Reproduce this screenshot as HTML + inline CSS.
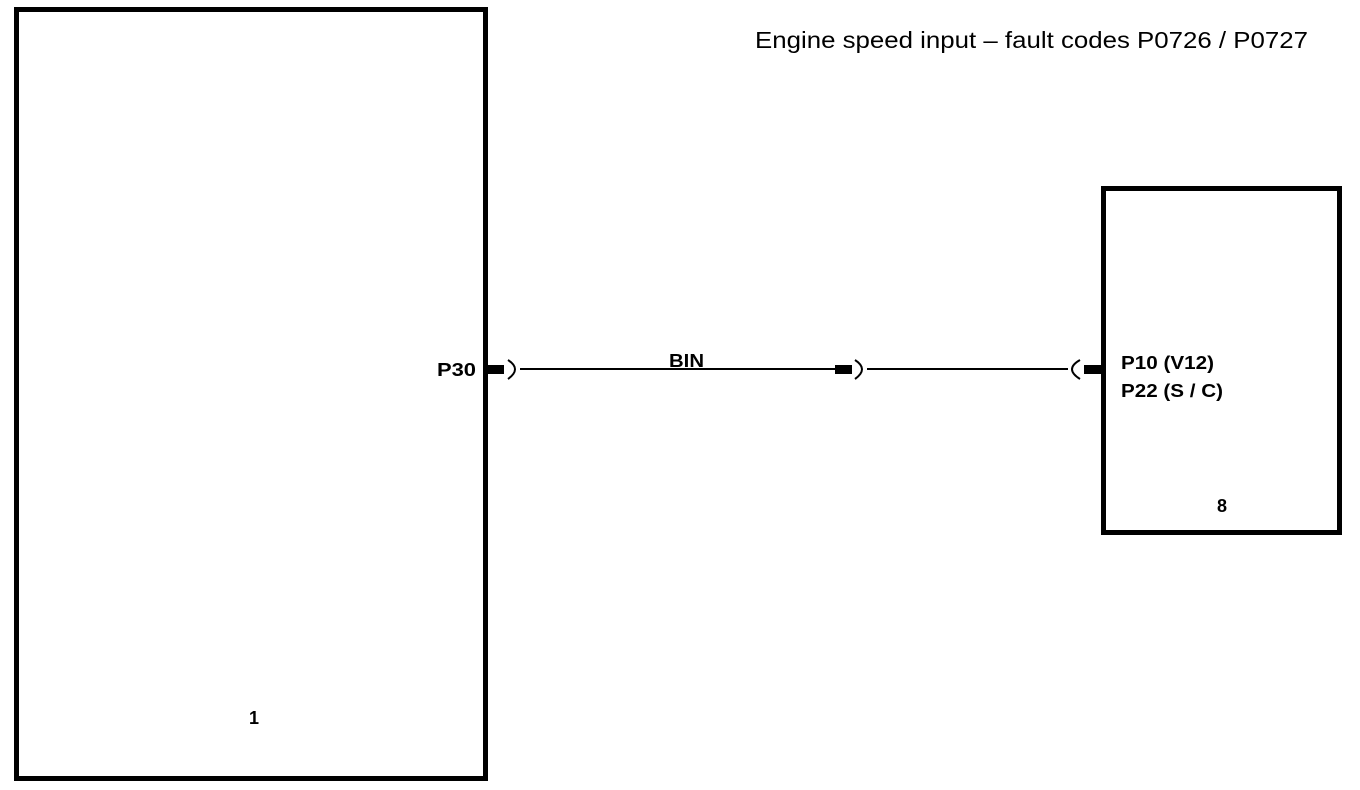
<!DOCTYPE html>
<html><head><meta charset="utf-8"><style>
html,body{margin:0;padding:0;background:#fff;width:1360px;height:790px;overflow:hidden}
svg{display:block}
text{font-family:"Liberation Sans",Arial,sans-serif;fill:#000}
</style></head><body>
<svg width="1360" height="790" viewBox="0 0 1360 790" xmlns="http://www.w3.org/2000/svg">
<rect x="16.5" y="9.5" width="469" height="769" fill="none" stroke="#000" stroke-width="5"/>
<rect x="1103.5" y="188.5" width="236" height="344" fill="none" stroke="#000" stroke-width="5"/>
<text x="755" y="48" font-size="23" textLength="553" lengthAdjust="spacingAndGlyphs">Engine speed input – fault codes P0726 / P0727</text>
<text x="437" y="376" font-size="18" font-weight="bold" textLength="39" lengthAdjust="spacingAndGlyphs">P30</text>
<text x="669" y="367" font-size="18" font-weight="bold" textLength="35" lengthAdjust="spacingAndGlyphs">BIN</text>
<text x="1121" y="369" font-size="18" font-weight="bold" textLength="93" lengthAdjust="spacingAndGlyphs">P10 (V12)</text>
<text x="1121" y="397" font-size="18" font-weight="bold" textLength="102" lengthAdjust="spacingAndGlyphs">P22 (S / C)</text>
<text x="1217" y="512" font-size="18" font-weight="bold">8</text>
<text x="249" y="724" font-size="18" font-weight="bold">1</text>
<rect x="487" y="365" width="17" height="9" fill="#000"/>
<path d="M508 360 Q522 369 508 379" fill="none" stroke="#000" stroke-width="2"/>
<line x1="520" y1="369" x2="836" y2="369" stroke="#000" stroke-width="2"/>
<rect x="835" y="365" width="17" height="9" fill="#000"/>
<path d="M855 360 Q869 369 855 379" fill="none" stroke="#000" stroke-width="2"/>
<line x1="867" y1="369" x2="1068" y2="369" stroke="#000" stroke-width="2"/>
<path d="M1080 360 Q1064 369 1080 379" fill="none" stroke="#000" stroke-width="2"/>
<rect x="1084" y="365" width="18" height="9" fill="#000"/>
</svg>
</body></html>
